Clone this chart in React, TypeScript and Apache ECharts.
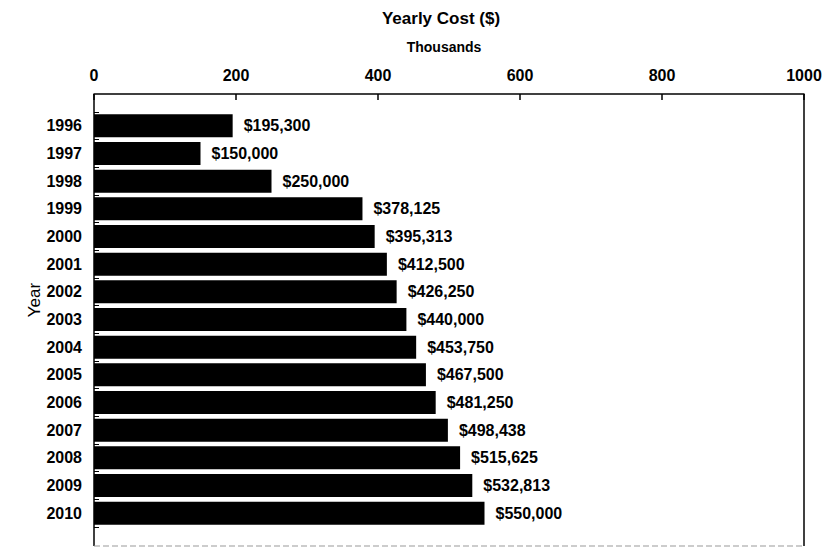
import React, { useEffect, useRef } from "react";
import * as echarts from "echarts";

const years = ["1996","1997","1998","1999","2000","2001","2002","2003","2004","2005","2006","2007","2008","2009","2010"];
const costThousands = [195.3, 150, 250, 378.125, 395.313, 412.5, 426.25, 440, 453.75, 467.5, 481.25, 498.438, 515.625, 532.813, 550];
const xTicks = [0, 200, 400, 600, 800, 1000];
const titleText = "Yearly Cost ($)";
const unitText = "Thousands";
const yName = "Year";

const FONT = "'Liberation Sans', Arial, sans-serif";

export default function App() {
  const ref = useRef<HTMLDivElement>(null);
  useEffect(() => {
    document.body.style.margin = "0";
    const chart = echarts.init(ref.current!, null, { renderer: "svg" });
    const L = 94, R = 804, T = 94, B = 546;
    chart.setOption({
      animation: false,
      backgroundColor: "#fff",
      textStyle: { fontFamily: FONT },
      grid: { left: L, right: 825 - R, top: 112, bottom: 20, containLabel: false },
      xAxis: {
        type: "value",
        position: "top",
        offset: 18,
        min: xTicks[0],
        max: xTicks[xTicks.length - 1],
        interval: 200,
        axisLine: { show: true, lineStyle: { color: "#000", width: 1.5 } },
        axisTick: { show: true, inside: true, length: 6, lineStyle: { color: "#000", width: 1.5 } },
        axisLabel: {
          color: "#000", fontWeight: "bold", fontSize: 16, fontFamily: FONT, margin: 11,
          formatter: (v: number) => String(v),
        },
        splitLine: { show: false },
      },
      yAxis: {
        type: "category",
        data: years,
        inverse: true,
        axisLine: { show: false },
        axisTick: { show: true, inside: true, length: 5, lineStyle: { color: "#000", width: 1 } },
        axisLabel: { color: "#000", fontWeight: "bold", fontSize: 16, fontFamily: FONT, margin: 12 },
      },
      series: [
        {
          type: "bar",
          data: costThousands,
          barWidth: 23,
          itemStyle: { color: "#000" },
          label: {
            show: true,
            position: "right",
            distance: 11,
            color: "#000",
            fontWeight: "bold",
            fontSize: 16,
            fontFamily: FONT,
            formatter: (p: any) => "$" + Math.round(p.value * 1000).toLocaleString("en-US"),
          },
        },
      ],
      graphic: [
        { type: "line", shape: { x1: L, y1: T, x2: L, y2: B }, style: { stroke: "#000", lineWidth: 1.5 } },
        { type: "line", shape: { x1: R, y1: T, x2: R, y2: B }, style: { stroke: "#000", lineWidth: 1.5 } },
        { type: "line", shape: { x1: L, y1: B, x2: R, y2: B }, style: { stroke: "#999", lineWidth: 1, lineDash: [6, 3] } },
        {
          type: "text", x: 441, y: 18,
          style: { text: titleText, fill: "#000", font: `bold 17px ${FONT}`, textAlign: "center", textVerticalAlign: "middle" },
        },
        {
          type: "text", x: 444, y: 47,
          style: { text: unitText, fill: "#000", font: `bold 14px ${FONT}`, textAlign: "center", textVerticalAlign: "middle" },
        },
        {
          type: "text", x: 34, y: 300, rotation: Math.PI / 2,
          style: { text: yName, fill: "#000", font: `17px ${FONT}`, textAlign: "center", textVerticalAlign: "middle" },
        },
      ],
    });
    return () => chart.dispose();
  }, []);
  return <div ref={ref} style={{ width: 825, height: 547 }} />;
}
